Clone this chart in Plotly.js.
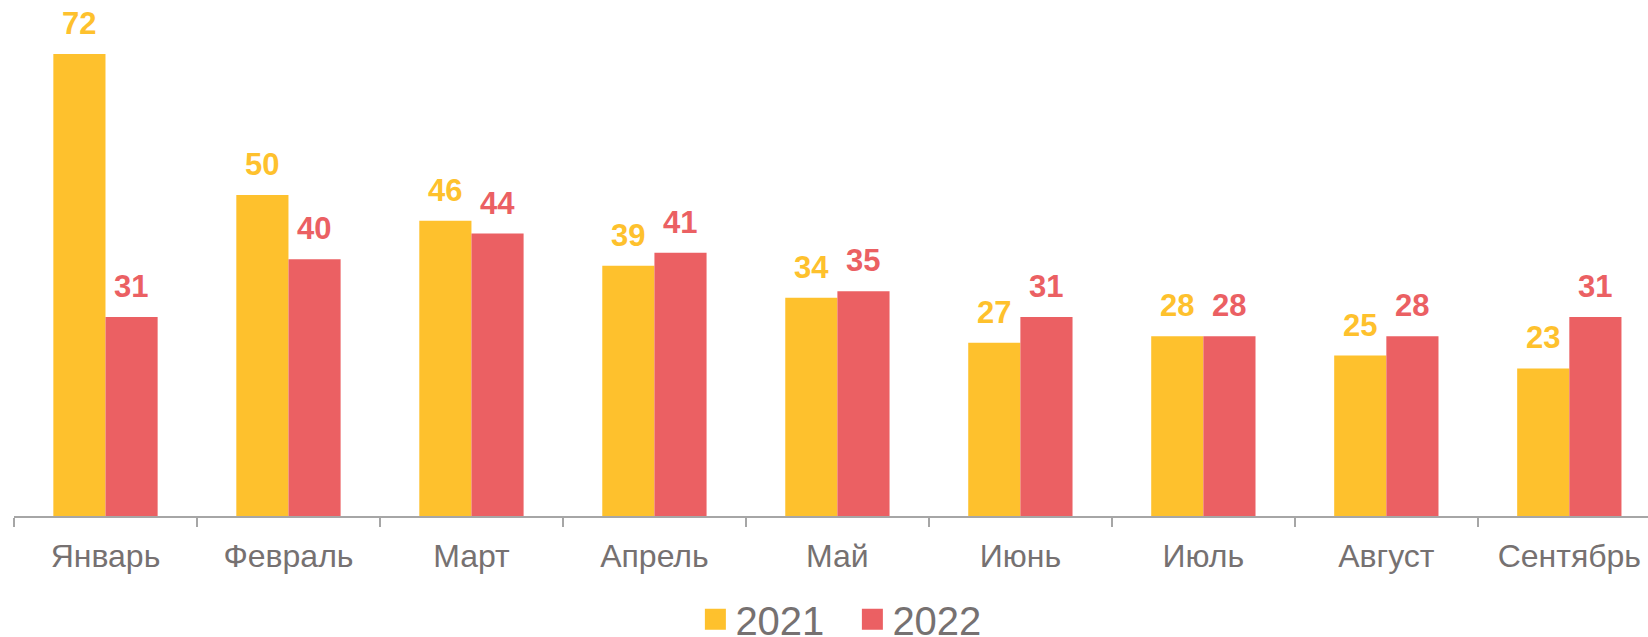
<!DOCTYPE html>
<html>
<head>
<meta charset="utf-8">
<script src="https://cdn.plot.ly/plotly-3.0.1.min.js"></script>
<style>html,body{margin:0;padding:0;background:#fff;}#chart{width:1648px;height:637px;}</style>
</head>
<body>
<div id="chart"></div>
<script>
const months = ["Январь", "Февраль", "Март", "Апрель", "Май", "Июнь", "Июль", "Август", "Сентябрь"];
const seriesNames = ["2021", "2022"];
const values2021 = [72, 50, 46, 39, 34, 27, 28, 25, 23];
const values2022 = [31, 40, 44, 41, 35, 31, 28, 28, 31];

const colors = ["#FEC12D", "#EB6063"];
const textGray = "#767171";
const font = "Liberation Sans, Arial, sans-serif";
const halfBar = 26;

const seriesValues = [values2021, values2022];

const traces = [];
seriesValues.forEach((vals, k) => {
  traces.push({
    type: "bar",
    name: seriesNames[k],
    x: months,
    y: vals,
    marker: {color: colors[k], line: {width: 0}},
    showlegend: false,
    hoverinfo: "x+y+name"
  });
});
// legend entries
seriesValues.forEach((vals, k) => {
  traces.push({
    type: "scatter",
    mode: "markers",
    name: seriesNames[k],
    x: [months[0]],
    y: [null],
    marker: {symbol: "square", size: 16, color: colors[k], line: {width: 5, color: colors[k]}},
    showlegend: true,
    hoverinfo: "skip"
  });
});

const annotations = [];
seriesValues.forEach((vals, k) => {
  vals.forEach((v, i) => {
    annotations.push({
      x: months[i], y: v, xref: "x", yref: "y",
      text: String(v),
      showarrow: false,
      xshift: k === 0 ? -halfBar : halfBar,
      yshift: 11,
      yanchor: "bottom",
      font: {family: font, size: 31, color: colors[k], weight: "bold"}
    });
  });
});

const layout = {
  width: 1648, height: 637,
  margin: {l: 14, r: 0, t: 0, b: 121, pad: 0, autoexpand: false},
  paper_bgcolor: "#fff", plot_bgcolor: "#fff",
  barmode: "group",
  bargap: 0.43,
  bargroupgap: 0,
  font: {family: font, color: textGray},
  xaxis: {
    type: "category",
    range: [-0.5, 8.43],
    showline: true, linecolor: "#A6A6A6", linewidth: 1.5,
    ticks: "outside", tickson: "boundaries", ticklen: 9, tickcolor: "#A6A6A6", tickwidth: 1.5,
    tickfont: {family: font, size: 32, color: textGray},
    ticklabelstandoff: 11,
    automargin: false,
    showgrid: false, zeroline: false, fixedrange: true
  },
  yaxis: {
    range: [0, 80.4], visible: false, showgrid: false, zeroline: false, fixedrange: true, automargin: false
  },
  showlegend: true,
  legend: {
    orientation: "h",
    x: 0.417, xanchor: "left",
    y: -0.2, yanchor: "middle",
    entrywidth: 112,
    font: {family: font, size: 40, color: textGray},
    itemsizing: "trace",
    bgcolor: "rgba(0,0,0,0)"
  },
  annotations: annotations
};

Plotly.newPlot("chart", traces, layout, {displayModeBar: false, staticPlot: true});
</script>
</body>
</html>
